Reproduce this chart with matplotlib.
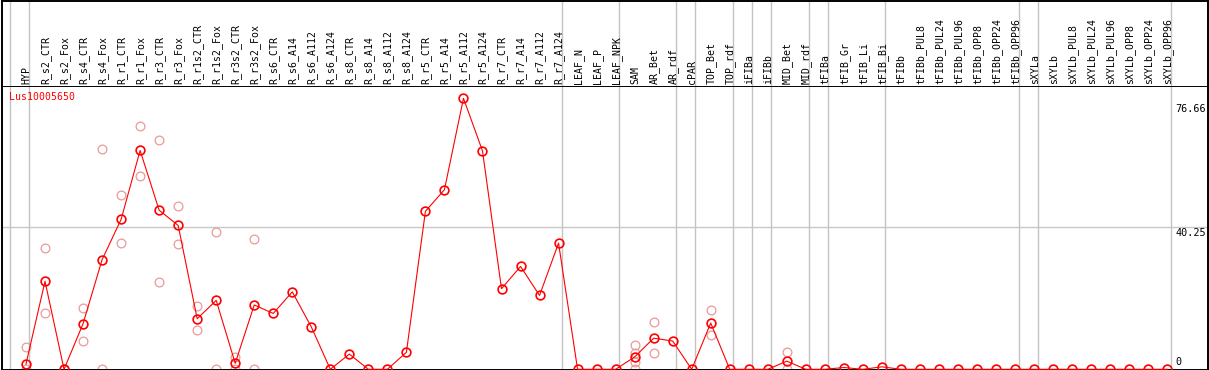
import matplotlib
matplotlib.use("Agg")
import matplotlib.pyplot as plt
from matplotlib.transforms import blended_transform_factory, ScaledTranslation

gene = "Lus10005650"

samples = ["HYP",
           "R_s2_CTR", "R_s2_Fox", "R_s4_CTR", "R_s4_Fox", "R_r1_CTR", "R_r1_Fox",
           "R_r3_CTR", "R_r3_Fox", "R_r1s2_CTR", "R_r1s2_Fox", "R_r3s2_CTR", "R_r3s2_Fox",
           "R_s6_CTR", "R_s6_A14", "R_s6_A112", "R_s6_A124",
           "R_s8_CTR", "R_s8_A14", "R_s8_A112", "R_s8_A124",
           "R_r5_CTR", "R_r5_A14", "R_r5_A112", "R_r5_A124",
           "R_r7_CTR", "R_r7_A14", "R_r7_A112", "R_r7_A124",
           "LEAF_N", "LEAF_P", "LEAF_NPK", "SAM", "AR_Bet", "AR_rdf", "cPAR",
           "TOP_Bet", "TOP_rdf", "iFIBa", "iFIBb", "MID_Bet", "MID_rdf", "tFIBa",
           "tFIB_Gr", "tFIB_Li", "tFIB_Bi", "tFIBb",
           "tFIBb_PUL8", "tFIBb_PUL24", "tFIBb_PUL96", "tFIBb_OPP8", "tFIBb_OPP24", "tFIBb_OPP96",
           "sXYLa", "sXYLb",
           "sXYLb_PUL8", "sXYLb_PUL24", "sXYLb_PUL96", "sXYLb_OPP8", "sXYLb_OPP24", "sXYLb_OPP96"]

means = [1.5,
         24.9, 0, 12.9, 31.0, 42.4, 61.9,
         45.0, 40.7, 14.3, 19.5, 1.7, 18.2,
         15.8, 21.9, 12.0, 0,
         4.3, 0, 0, 4.8,
         44.7, 50.8, 76.66, 61.8,
         22.8, 29.1, 20.9, 35.7,
         0, 0, 0, 3.5, 8.8, 8.0, 0,
         13.1, 0, 0, 0, 2.3, 0, 0,
         0.5, 0, 0.7, 0,
         0, 0, 0, 0, 0, 0,
         0, 0,
         0, 0, 0, 0, 0, 0]

# individual replicates (light circles)
reps = {0: [6.4, 0], 1: [34.2, 15.8], 2: [0, 0], 3: [17.4, 8.1], 4: [62.4, 0],
        5: [49.3, 35.6], 6: [68.9, 54.7], 7: [65.0, 24.8], 8: [46.2, 35.4],
        9: [17.8, 11.2], 10: [38.7, 0], 11: [3.6, 0], 12: [36.8, 0],
        32: [6.9, 4.5, 2.1, 0], 33: [13.4, 4.6], 36: [16.8, 9.7], 40: [4.9, 0]}

# groups end after these sample indices
group_ends = [0, 28, 31, 34, 35, 37, 38, 39, 41, 42, 45, 52, 53, 60]

ymax = 76.66
yticks = [0, 40.25, 76.66]

W, H = 1209, 370
fig = plt.figure(figsize=(W / 100, H / 100), dpi=100)

def fx(px):
    return px / W

def fy(px):
    return 1 - px / H

x0, x1 = 2, 1208
ax = fig.add_axes([fx(x0), fy(369.5), fx(x1) - fx(x0), fy(86) - fy(369.5)])
hax = fig.add_axes([fx(x0), fy(86), fx(x1) - fx(x0), fy(0.7) - fy(86)], sharex=ax)

step = 19.02
xl = ((x0 - 26) / step, (x1 - 26) / step)
ax.set_xlim(*xl)
pxu = (369.3 - 98.3) / ymax
ax.set_ylim((369.3 - 369.5) / pxu, (369.3 - 86) / pxu)
hax.set_ylim(0, 1)

for a in (ax, hax):
    a.set_xticks([])
    a.set_yticks([])
    for s in a.spines.values():
        s.set_linewidth(1.4)
        s.set_color("black")
hax.spines["bottom"].set_visible(False)

sep = [-0.816] + [g + 0.184 for g in group_ends]
for xs in sep:
    ax.axvline(xs, color="#c3c3c3", lw=1.0, zorder=1)
    hax.axvline(xs, color="#c3c3c3", lw=1.0, zorder=1)

ax.axhline(40.25, color="#c8c8c8", lw=1.0, zorder=1)

xs = list(range(len(samples)))
for i, vals in reps.items():
    ax.plot([i] * len(vals), vals, "o", ms=6.3, mfc="none", mec="#eb9999",
            mew=0.9, clip_on=False, zorder=2)

ax.plot(xs, means, "-", color="red", lw=0.8, zorder=3, clip_on=False)
ax.plot(xs, means, "o", ms=6.3, mfc="none", mec="red", mew=1.2,
        zorder=4, clip_on=False)

for i, name in enumerate(samples):
    hax.text(i + 0.03, 1 - 84 / 86, name, rotation=90, ha="center", va="bottom",
             fontsize=7.1, family="DejaVu Sans Mono", color="black")

tr = blended_transform_factory(ax.transAxes, ax.transData)
offs = {0: 5.3, 40.25: -4.3, 76.66: -7.7}
lx = (1175 - x0) / (x1 - x0)
for t in yticks:
    ax.text(lx, t, f"{t:g}", ha="left", va="center", fontsize=7.3,
            family="DejaVu Sans Mono", color="black",
            transform=tr + ScaledTranslation(0, offs[t] / 72, fig.dpi_scale_trans))

fig.text(fx(9.5), fy(97), gene, ha="left", va="center", fontsize=7.1,
         family="DejaVu Sans Mono", color="red")

fig.savefig("out.png", dpi=100)
